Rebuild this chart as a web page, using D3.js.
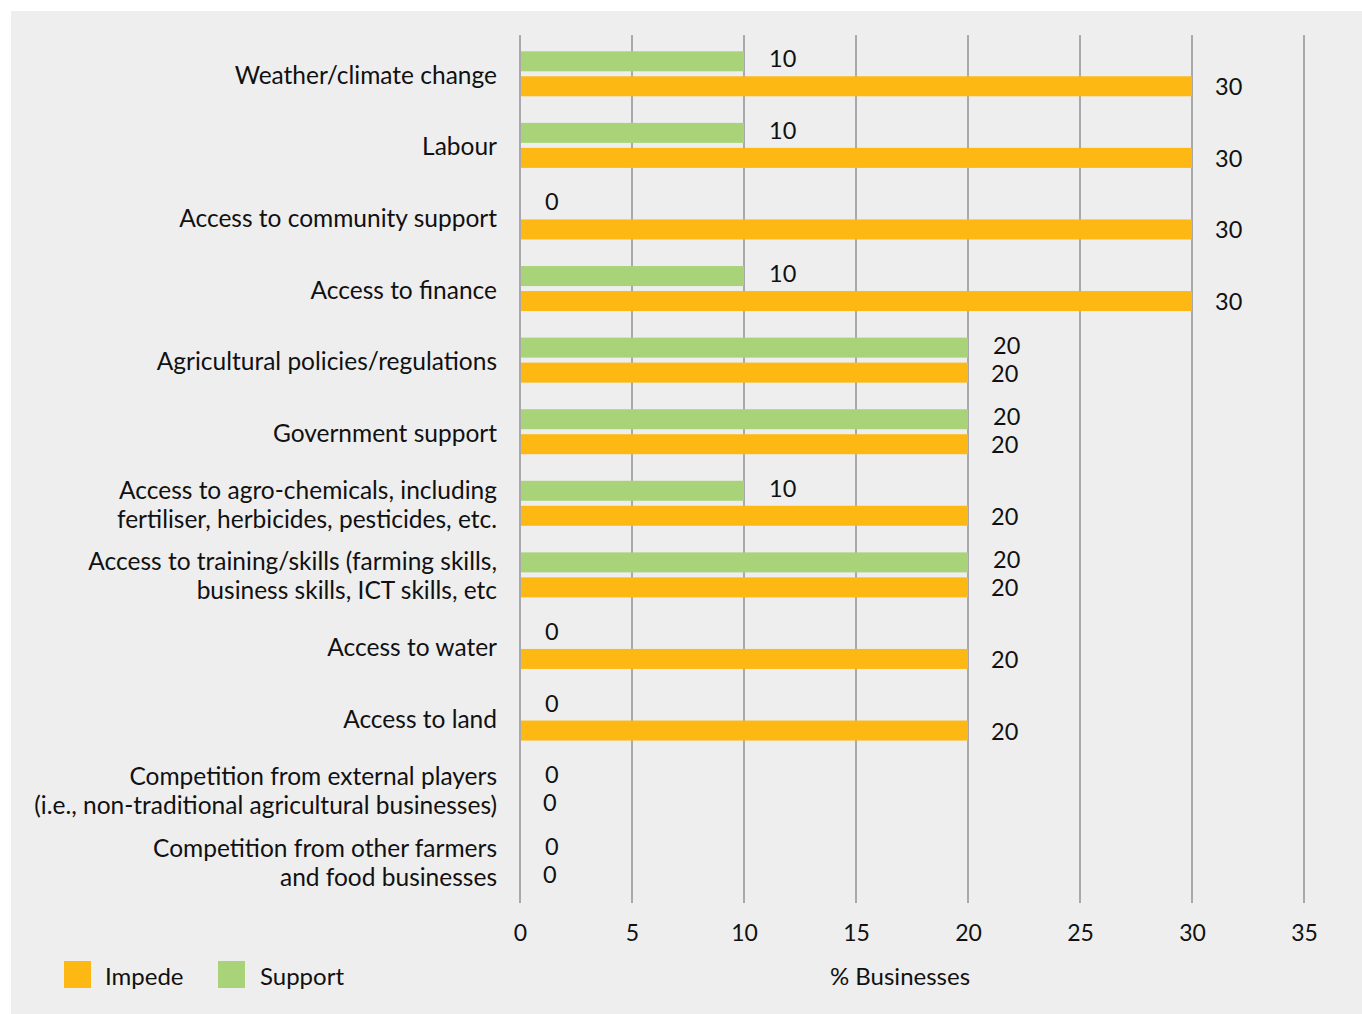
<!DOCTYPE html>
<html>
<head>
<meta charset="utf-8">
<script src="https://cdn.jsdelivr.net/npm/d3@7"></script>
<style>
  html, body { margin: 0; padding: 0; background: #ffffff; }
  svg { display: block; }
  text { font-family: "Lato", "Open Sans", sans-serif; fill: #111; }
</style>
</head>
<body>
<svg id="chart" width="1362" height="1014"></svg>
<script>
// Factors that impede or support the businesses (share of businesses, %)
const categories = [
  ["Weather/climate change"],
  ["Labour"],
  ["Access to community support"],
  ["Access to finance"],
  ["Agricultural policies/regulations"],
  ["Government support"],
  ["Access to agro-chemicals, including", "fertiliser, herbicides, pesticides, etc."],
  ["Access to training/skills (farming skills,", "business skills, ICT skills, etc"],
  ["Access to water"],
  ["Access to land"],
  ["Competition from external players", "(i.e., non-traditional agricultural businesses)"],
  ["Competition from other farmers", "and food businesses"]
];
const supportValues = [10, 10, 0, 10, 20, 20, 10, 20, 0, 0, 0, 0];
const impedeValues  = [30, 30, 30, 30, 20, 20, 20, 20, 20, 20, 0, 0];
const xTicks = [0, 5, 10, 15, 20, 25, 30, 35];
const seriesNames = ["Impede", "Support"];
const seriesColors = { Impede: "#FDB813", Support: "#A9D379" };

const svg = d3.select("#chart");

// Grey panel
svg.append("rect")
  .attr("x", 11).attr("y", 11)
  .attr("width", 1351).attr("height", 1003)
  .attr("fill", "#eeeeee");

const x = d3.scaleLinear().domain([0, 35]).range([520, 1304]);
const y = d3.scaleBand().domain(d3.range(categories.length)).range([38, 897]).paddingInner(0);

const barH = 20, gap = 5;

// Vertical gridlines
svg.append("g")
  .selectAll("line")
  .data(xTicks)
  .join("line")
  .attr("x1", d => x(d)).attr("x2", d => x(d))
  .attr("y1", 35).attr("y2", 903)
  .attr("stroke", "#a9a9ad")
  .attr("stroke-width", 2);

// Bottom axis labels
const xAxis = d3.axisBottom(x).tickValues(xTicks).tickSize(0).tickPadding(0);
const gx = svg.append("g").attr("transform", "translate(0,941)").call(xAxis);
gx.select(".domain").remove();
gx.selectAll("text")
  .attr("dy", 0)
  .style("font-family", "Lato, 'Open Sans', sans-serif")
  .style("font-size", "23px")
  .attr("fill", "#111");

// Category labels
const catG = svg.append("g");
categories.forEach((lines, i) => {
  const cy = y(i) + y.bandwidth() / 2;
  const lh = 29;
  const t = catG.append("text")
    .attr("text-anchor", "end")
    .attr("font-size", "24.5px");
  lines.forEach((ln, j) => {
    t.append("tspan")
      .attr("x", 497)
      .attr("y", cy + (j - (lines.length - 1) / 2) * lh + 10)
      .text(ln);
  });
});

const rows = d3.range(categories.length);

// Support bars (upper)
svg.append("g").selectAll("rect")
  .data(rows)
  .join("rect")
  .attr("x", x(0) + 1)
  .attr("y", i => y(i) + y.bandwidth() / 2 - gap / 2 - barH)
  .attr("width", i => Math.max(0, x(supportValues[i]) - x(0) - 1))
  .attr("height", barH)
  .attr("fill", seriesColors.Support);

// Impede bars (lower)
svg.append("g").selectAll("rect")
  .data(rows)
  .join("rect")
  .attr("x", x(0) + 1)
  .attr("y", i => y(i) + y.bandwidth() / 2 + gap / 2)
  .attr("width", i => Math.max(0, x(impedeValues[i]) - x(0) - 1))
  .attr("height", barH)
  .attr("fill", seriesColors.Impede);

// Value labels
svg.append("g").selectAll("text")
  .data(rows)
  .join("text")
  .attr("x", i => x(supportValues[i]) + 25)
  .attr("y", i => y(i) + y.bandwidth() / 2 - gap / 2 - barH / 2 + 6)
  .attr("font-size", "23.5px")
  .text(i => supportValues[i]);

svg.append("g").selectAll("text")
  .data(rows)
  .join("text")
  .attr("x", i => x(impedeValues[i]) + 23)
  .attr("y", i => y(i) + y.bandwidth() / 2 + gap / 2 + barH / 2 + 9)
  .attr("font-size", "23.5px")
  .text(i => impedeValues[i]);

// Axis title
svg.append("text")
  .attr("x", 900).attr("y", 985)
  .attr("text-anchor", "middle")
  .attr("font-size", "24px")
  .text("% Businesses");

// Legend
const legendPos = [{ sx: 64, tx: 105 }, { sx: 218, tx: 260 }];
const lg = svg.append("g");
seriesNames.forEach((name, i) => {
  lg.append("rect")
    .attr("x", legendPos[i].sx).attr("y", 961)
    .attr("width", 27).attr("height", 27)
    .attr("fill", seriesColors[name]);
  lg.append("text")
    .attr("x", legendPos[i].tx).attr("y", 985)
    .attr("font-size", "24px")
    .text(name);
});
</script>
</body>
</html>
